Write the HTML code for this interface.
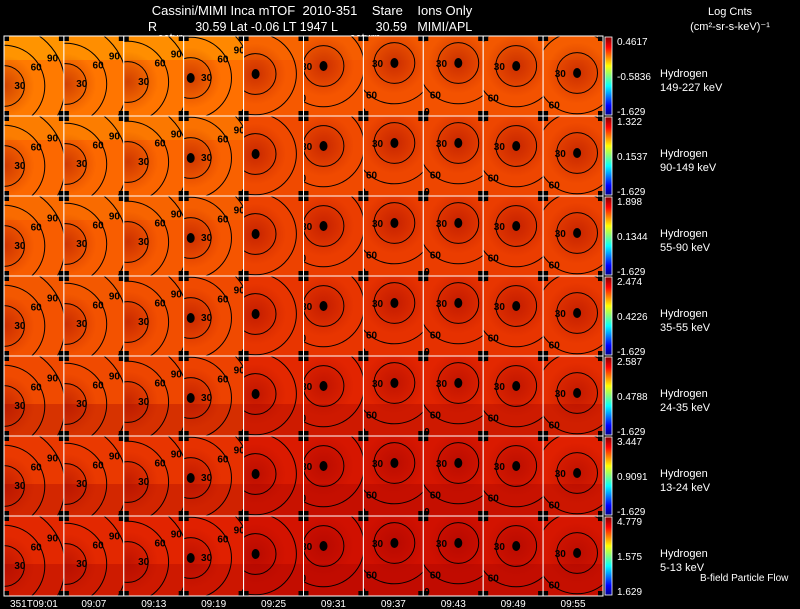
<!DOCTYPE html>
<html><head><meta charset="utf-8"><style>
html,body{margin:0;padding:0;background:#000;}
svg{display:block;font-family:"Liberation Sans",sans-serif;}
text{white-space:pre;}
</style></head><body>
<svg id="c" width="800" height="609" viewBox="0 0 800 609">
<rect width="800" height="609" fill="#000"/>
<text x="312" y="15" fill="#fff" font-size="13" text-anchor="middle" xml:space="preserve">Cassini/MIMI Inca mTOF  2010-351    Stare    Ions Only</text>
<text x="148" y="31" fill="#fff" font-size="12.5" xml:space="preserve">R           30.59 Lat -0.06 LT 1947 L           30.59   MIMI/APL</text>
<text x="158" y="41" fill="#fff" font-size="11">satur</text>
<text x="350" y="41" fill="#fff" font-size="11">saturn</text>
<text x="730" y="15" fill="#fff" font-size="11" text-anchor="middle">Log Cnts</text>
<text x="730" y="30" fill="#fff" font-size="11" text-anchor="middle">(cm²-sr-s-keV)⁻¹</text>
<text x="700" y="581" fill="#fff" font-size="10">B-field Particle Flow</text>
<defs>
<linearGradient id="jet" x1="0" y1="1" x2="0" y2="0">
<stop offset="0" stop-color="#00008f"/><stop offset="0.12" stop-color="#0000ff"/>
<stop offset="0.37" stop-color="#00ffff"/><stop offset="0.5" stop-color="#80ff80"/>
<stop offset="0.63" stop-color="#ffff00"/><stop offset="0.87" stop-color="#ff0000"/>
<stop offset="1" stop-color="#800000"/></linearGradient>
<radialGradient id="dark" cx="0.5" cy="0.5" r="0.5"><stop offset="0" stop-color="#900" stop-opacity="0.45"/><stop offset="1" stop-color="#900" stop-opacity="0"/></radialGradient>
</defs>
<g id="panels"></g>
</svg>
<script>
const times=["351T09:01","09:07","09:13","09:19","09:25","09:31","09:37","09:43","09:49","09:55"];
const energies=["149-227 keV","90-149 keV","55-90 keV","35-55 keV","24-35 keV","13-24 keV","5-13 keV"];
const cbTop=["0.4617","1.322","1.898","2.474","2.587","3.447","4.779"];
const cbMid=["-0.5836","0.1537","0.1344","0.4226","0.4788","0.9091","1.575"];
const cbBot=["-1.629","-1.629","-1.629","-1.629","-1.629","-1.629","1.629"];
const levels=[
[0.72,0.71,0.71,0.70,0.64,0.63,0.62,0.62,0.62,0.63],
[0.68,0.68,0.67,0.66,0.60,0.60,0.59,0.59,0.59,0.60],
[0.65,0.65,0.64,0.63,0.58,0.57,0.57,0.57,0.57,0.58],
[0.62,0.62,0.61,0.60,0.55,0.55,0.54,0.54,0.55,0.56],
[0.60,0.60,0.59,0.58,0.52,0.51,0.51,0.51,0.52,0.53],
[0.56,0.56,0.55,0.54,0.48,0.47,0.47,0.47,0.48,0.50],
[0.52,0.52,0.51,0.50,0.46,0.45,0.45,0.45,0.46,0.47]];
const centerX=[0,2,4,7,12,20,31,35,33,34];
const centerY=[50,48,46,42,38,30,27,27,30,37];
const ringDeg=[30,60,90];
const X0=4,PW=59.9,Y0=36,PH=80;
function xPos(c){return X0+c*PW;}
function yPos(r){return Y0+r*PH;}
function rad(d){return d*0.68;}
function cmap(v){const s=[[0.4,[192,0,0]],[0.5,[224,32,0]],[0.6,[240,74,0]],[0.7,[255,112,0]],[0.8,[255,160,0]]];
 if(v<=s[0][0])return 'rgb('+s[0][1]+')';for(let i=1;i<s.length;i++){if(v<=s[i][0]){const t=(v-s[i-1][0])/(s[i][0]-s[i-1][0]);const a=s[i-1][1],b=s[i][1];return 'rgb('+a.map((x,k)=>Math.round(x+(b[k]-x)*t)).join(',')+')';}}return 'rgb('+s[4][1]+')';}
const NS='http://www.w3.org/2000/svg';
const G=document.getElementById('panels');
function mk(t,a,p){const e=document.createElementNS(NS,t);for(const k in a)e.setAttribute(k,a[k]);(p||G).appendChild(e);return e;}
for(let r=0;r<energies.length;r++){
 for(let c=0;c<times.length;c++){
  const x=xPos(c),y=yPos(r);
  const g=mk('g',{});
  
  
  const cp=mk('clipPath',{id:'cp'+r+'_'+c},g);
  mk('rect',{x:x,y:y,width:PW,height:PH},cp);
  mk('rect',{x:x,y:y,width:PW,height:PH,fill:cmap(levels[r][c])},g);
  mk('rect',{x:x,y:y,width:PW,height:PH*0.3,fill:'#ffd000',opacity:Math.max(0,levels[r][c]-0.6)*2.5},g);
  if(r>=4)mk('rect',{x:x,y:y+PH*0.6,width:PW,height:PH*0.4,fill:'#a00000',opacity:0.3},g);
  const cx=x+centerX[c],cy=y+centerY[c];
  const rg=mk('g',{'clip-path':'url(#cp'+r+'_'+c+')'},g);
  mk('circle',{cx:cx,cy:cy,r:rad(45),fill:'url(#dark)'},rg);
  const late=c>=4;
  ringDeg.forEach((d,i)=>{
   mk('circle',{cx:cx,cy:cy,r:rad(d),fill:'none',stroke:'#000','stroke-width':1},rg);
   let lx,ly;
   if(!late){lx=cx+rad(d)*0.8-6;ly=cy+(i==0?3:-rad(d)*0.45+3);}
   else{ if(i==0){lx=cx-rad(d)-2;ly=cy+4;} else {lx=cx-rad(d)*0.55-6;ly=cy+rad(d)*0.8+3;} }
   const lb=mk('text',{x:lx,y:ly,'font-size':10,fill:'#000','font-weight':'bold'},rg);lb.textContent=d;
  });
  if(c>=3)mk('ellipse',{cx:cx,cy:cy,rx:4,ry:5,fill:'#000'},rg);
  [[x,y],[x+PW-5,y],[x,y+PH-5],[x+PW-5,y+PH-5]].forEach(p=>mk('rect',{x:p[0],y:p[1],width:5,height:5,fill:'#000'},g));
  mk('rect',{x:x,y:y,width:PW,height:PH,fill:'none',stroke:'#fff','stroke-width':1},g);
 }
 const cy=yPos(r);
 const cb=mk('rect',{x:605,y:cy+1,width:7,height:PH-2,fill:'url(#jet)',stroke:'#fff','stroke-width':0.8});
 
 
 const t1=mk('text',{x:617,y:cy+9,fill:'#fff','font-size':10});t1.textContent=cbTop[r];
 
 
 const t2=mk('text',{x:617,y:cy+44,fill:'#fff','font-size':10});t2.textContent=cbMid[r];
 
 
 const t3=mk('text',{x:617,y:cy+79,fill:'#fff','font-size':10});t3.textContent=cbBot[r];
 
 
 const h=mk('text',{x:660,y:cy+41,fill:'#fff','font-size':11});h.textContent='Hydrogen';
 
 
 const e=mk('text',{x:660,y:cy+55,fill:'#fff','font-size':11});e.textContent=energies[r];
 
 
}
for(let c=0;c<times.length;c++){
 const t=mk('text',{x:xPos(c)+PW/2,y:607,fill:'#fff','font-size':10,'text-anchor':'middle'});t.textContent=times[c];
 
 
}
</script>
</body></html>
